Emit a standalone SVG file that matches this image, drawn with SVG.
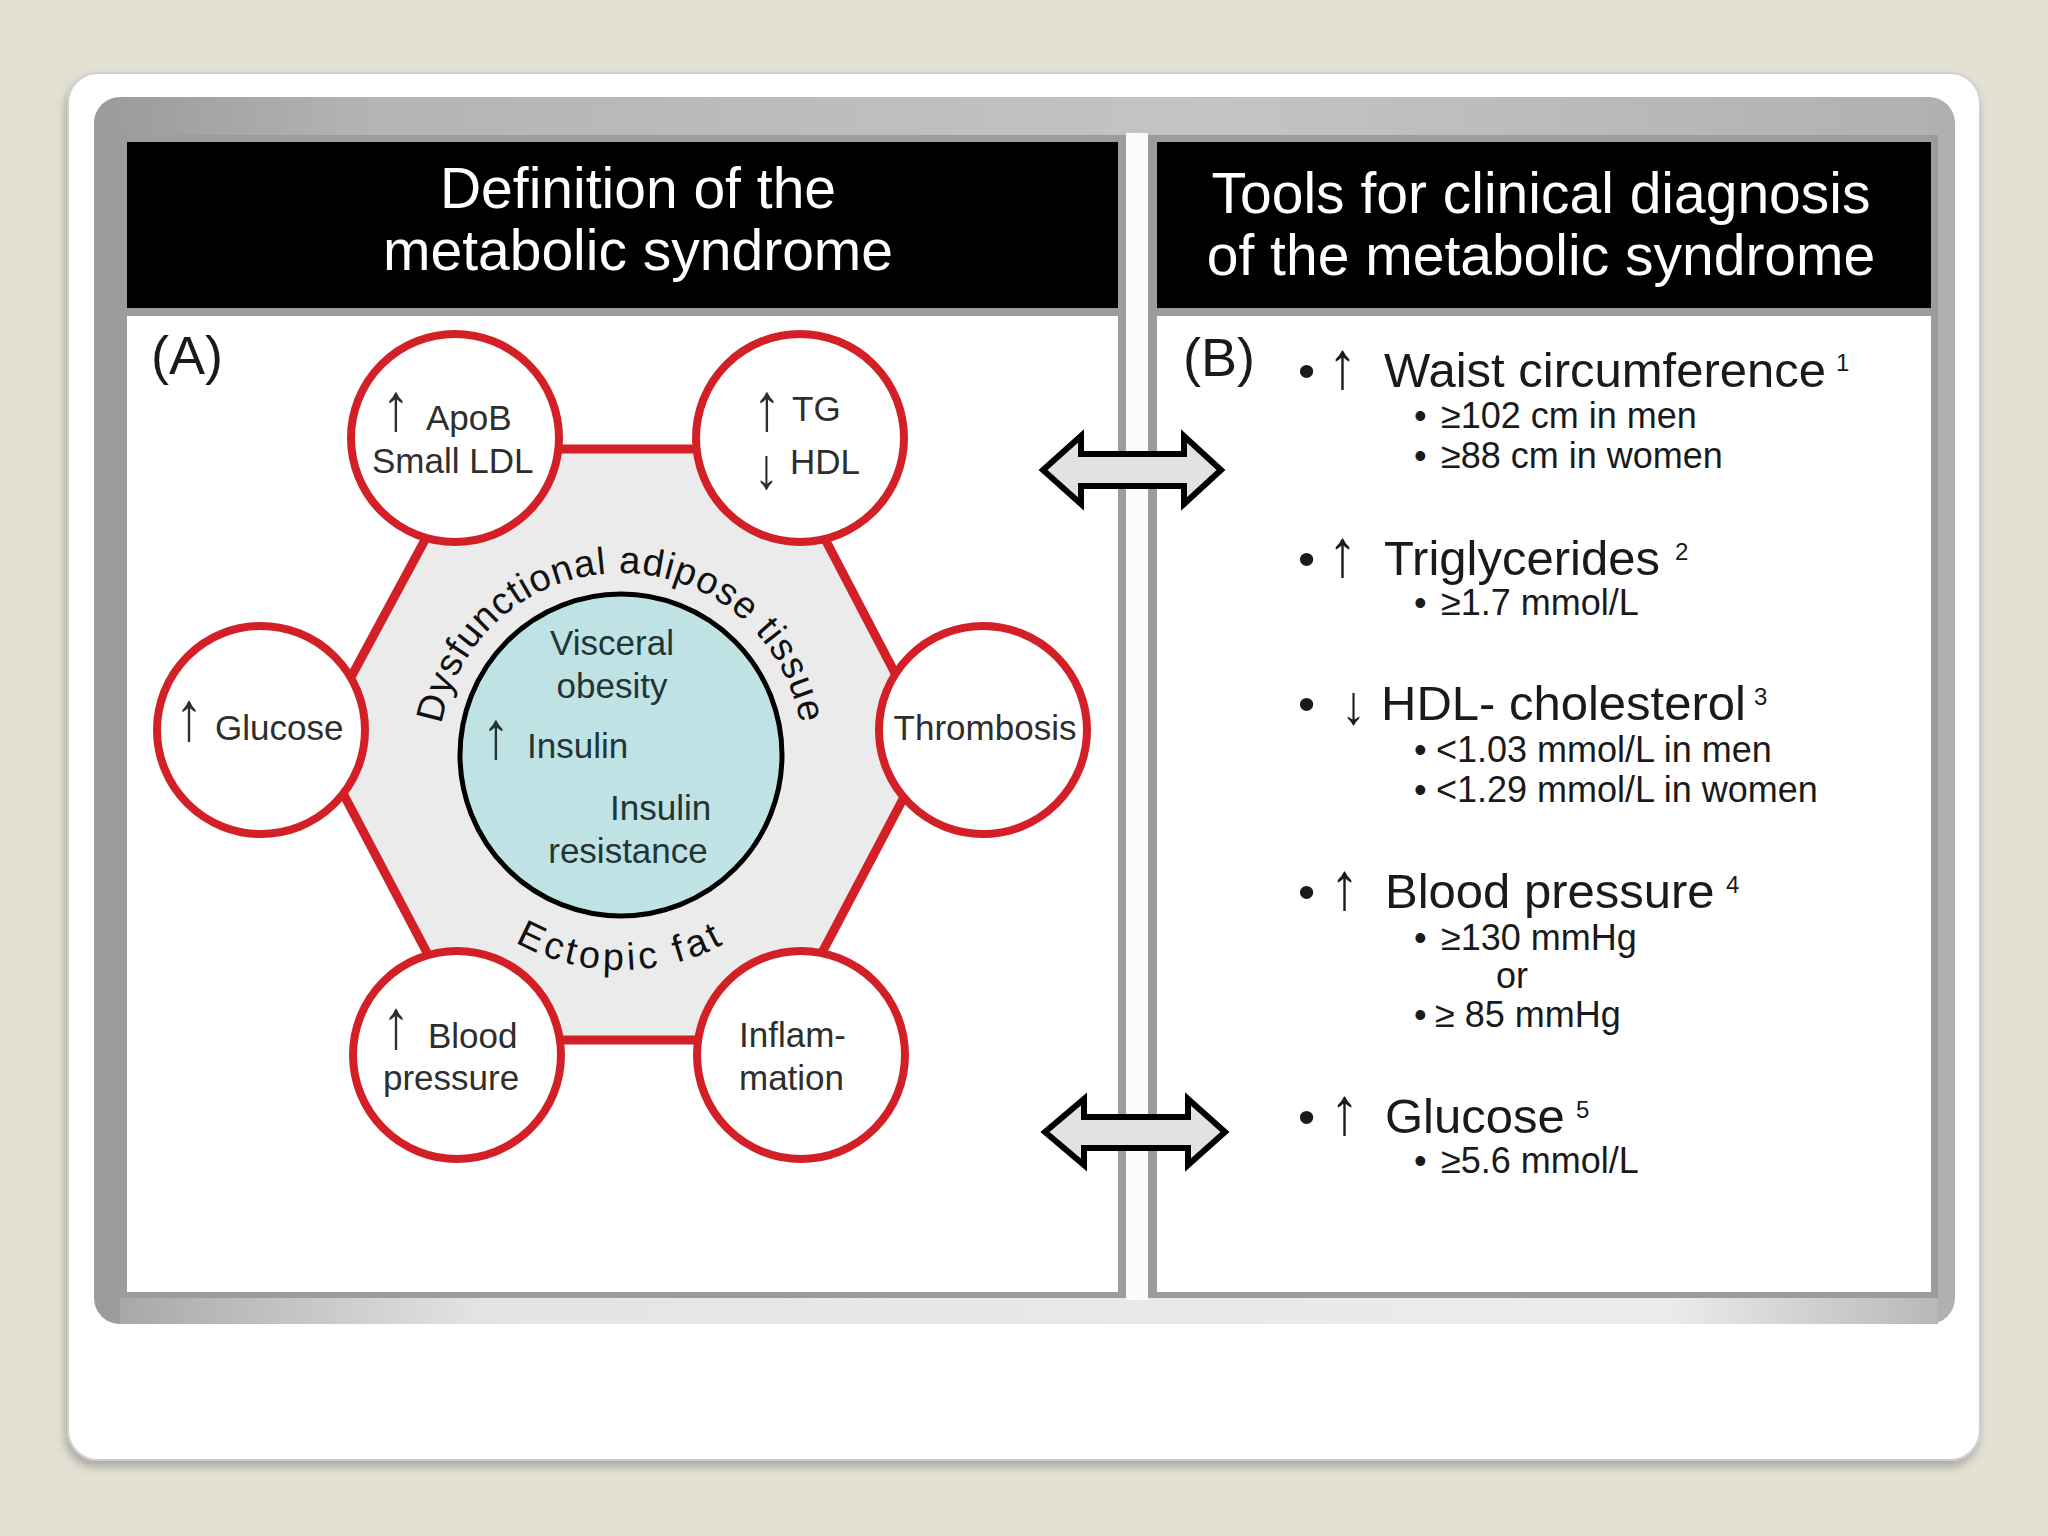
<svg xmlns="http://www.w3.org/2000/svg" width="2048" height="1536" viewBox="0 0 2048 1536">
  <defs>
    <linearGradient id="frameGrad" x1="0" y1="0" x2="1" y2="0">
      <stop offset="0" stop-color="#9a9a9a"/>
      <stop offset="0.15" stop-color="#b4b4b4"/>
      <stop offset="0.6" stop-color="#c4c4c4"/>
      <stop offset="1" stop-color="#b0b0b0"/>
    </linearGradient>
    <linearGradient id="bottomGrad" x1="0" y1="0" x2="1" y2="0">
      <stop offset="0" stop-color="#a8a8a8"/>
      <stop offset="0.2" stop-color="#e4e4e4"/>
      <stop offset="0.85" stop-color="#ececec"/>
      <stop offset="1" stop-color="#b8b8b8"/>
    </linearGradient>
    <filter id="shadow" x="-5%" y="-5%" width="110%" height="115%">
      <feDropShadow dx="-2" dy="6" stdDeviation="5" flood-color="#000" flood-opacity="0.25"/>
    </filter>
    <path id="arcTop" d="M 439 755 A 182 182 0 0 1 803 755"/>
    <path id="arcBot" d="M 406 755 A 215 215 0 0 0 836 755"/>
  </defs>
  <style>
    text { font-family: "Liberation Sans", Arial, "DejaVu Sans", sans-serif; }
    .hdr { fill: #ffffff; font-size: 57px; text-anchor: middle; }
    .lbl { fill: #2e2e2e; font-size: 35px; }
    .inner { fill: #233434; font-size: 35px; }
    .arc { fill: #111111; font-size: 38px; }
    .panelLetter { fill: #1a1a1a; font-size: 54px; }
    .main { fill: #1a1a1a; font-size: 49px; }
    .sub { fill: #1a1a1a; font-size: 36px; }
    .sup { fill: #1a1a1a; font-size: 24px; }
    .arw { font-size: 56px; }
    .arwM { font-size: 58px; }
    .node { fill: #ffffff; stroke: #d32027; stroke-width: 8; }
    .edge { stroke: #d32027; stroke-width: 9; fill: none; }
    .dbl { fill: #e2e2e2; stroke: #000000; stroke-width: 6; stroke-linejoin: miter; }
    .pborder { fill: #9c9c9c; }
  </style>

  <!-- background -->
  <rect x="0" y="0" width="2048" height="1536" fill="#e3e0d4"/>
  <!-- card -->
  <rect x="68" y="73" width="1912" height="1387" rx="30" ry="30" fill="#ffffff" stroke="#cfcfcf" stroke-width="2" filter="url(#shadow)"/>
  <!-- gray frame -->
  <rect x="94" y="97" width="1861" height="1227" rx="26" ry="26" fill="url(#frameGrad)"/>
  <rect x="120" y="1298" width="1818" height="26" fill="url(#bottomGrad)"/>
  <!-- middle white strip -->
  <rect x="1126" y="133" width="22" height="1167" fill="#fbfbfb"/>

  <!-- left panel -->
  <g id="panel-left">
    <rect class="pborder" x="120" y="135" width="1006" height="1163"/>
    <rect x="127" y="142" width="991" height="166" fill="#000000"/>
    <rect x="127" y="316" width="991" height="976" fill="#ffffff"/>
    <text class="hdr" x="638" y="208">Definition of the</text>
    <text class="hdr" x="638" y="270">metabolic syndrome</text>
    <text class="panelLetter" x="151" y="374">(A)</text>
  </g>

  <!-- right panel -->
  <g id="panel-right">
    <rect class="pborder" x="1148" y="135" width="790" height="1163"/>
    <rect x="1157" y="142" width="774" height="166" fill="#000000"/>
    <rect x="1157" y="316" width="774" height="976" fill="#ffffff"/>
    <text class="hdr" x="1541" y="213">Tools for clinical diagnosis</text>
    <text class="hdr" x="1541" y="275">of the metabolic syndrome</text>
    <text class="panelLetter" x="1183" y="376">(B)</text>
  </g>

  <!-- hexagon fill -->
  <polygon points="474,449 778,449 932,744 776,1040 473,1040 316,742" fill="#ebebeb"/>

  <!-- connectors -->
  <g id="connectors">
    <line class="edge" x1="455" y1="449" x2="800" y2="449"/>
    <line class="edge" x1="474" y1="449" x2="316" y2="742"/>
    <line class="edge" x1="316" y1="742" x2="473" y2="1040"/>
    <line class="edge" x1="457" y1="1040" x2="801" y2="1040"/>
    <line class="edge" x1="776" y1="1040" x2="932" y2="744"/>
    <line class="edge" x1="932" y1="744" x2="778" y2="449"/>
    <path class="dbl" d="M1043,470 L1081,436 L1081,454 L1184,454 L1184,436 L1221,470 L1184,504 L1184,486 L1081,486 L1081,504 Z"/>
    <path class="dbl" d="M1045,1132 L1084,1099 L1084,1117 L1188,1117 L1188,1099 L1225,1132 L1188,1165 L1188,1148 L1084,1148 L1084,1165 Z"/>
  </g>

  <!-- central adipose circle -->
  <g id="node-center">
    <circle cx="621" cy="755" r="161" fill="#bfe2e5" stroke="#000000" stroke-width="5"/>
    <text class="inner" x="612" y="655" text-anchor="middle">Visceral</text>
    <text class="inner" x="612" y="698" text-anchor="middle">obesity</text>
    <text class="inner arw" transform="translate(482,758) scale(1,1.2)">↑</text>
    <text class="inner" x="527" y="758">Insulin</text>
    <text class="inner" x="610" y="820">Insulin</text>
    <text class="inner" x="628" y="863" text-anchor="middle">resistance</text>
  </g>
  <g id="arc-labels">
    <text class="arc" letter-spacing="1"><textPath href="#arcTop" startOffset="50%" text-anchor="middle">Dysfunctional adipose tissue</textPath></text>
    <text class="arc" letter-spacing="4"><textPath href="#arcBot" startOffset="50%" text-anchor="middle">Ectopic fat</textPath></text>
  </g>

  <!-- outer nodes -->
  <g id="node-apob">
    <circle class="node" cx="455" cy="438" r="104"/>
    <text class="lbl arw" transform="translate(382,430) scale(1,1.2)">↑</text>
    <text class="lbl" x="426" y="430">ApoB</text>
    <text class="lbl" x="372" y="473">Small LDL</text>
  </g>
  <g id="node-tg-hdl">
    <circle class="node" cx="800" cy="438" r="104"/>
    <text class="lbl arw" transform="translate(753,430) scale(1,1.2)">↑</text>
    <text class="lbl arw" transform="translate(754,488) scale(1,1.15)" style="font-size:50px">↓</text>
    <text class="lbl" x="792" y="421">TG</text>
    <text class="lbl" x="790" y="474">HDL</text>
  </g>
  <g id="node-glucose">
    <circle class="node" cx="261" cy="730" r="104"/>
    <text class="lbl arw" transform="translate(175,740) scale(1,1.25)">↑</text>
    <text class="lbl" x="215" y="740">Glucose</text>
  </g>
  <g id="node-thrombosis">
    <circle class="node" cx="983" cy="730" r="104"/>
    <text class="lbl" x="985" y="740" text-anchor="middle">Thrombosis</text>
  </g>
  <g id="node-bp">
    <circle class="node" cx="457" cy="1055" r="104"/>
    <text class="lbl arw" transform="translate(382,1048) scale(1,1.25)">↑</text>
    <text class="lbl" x="428" y="1048">Blood</text>
    <text class="lbl" x="383" y="1090">pressure</text>
  </g>
  <g id="node-inflammation">
    <circle class="node" cx="801" cy="1055" r="104"/>
    <text class="lbl" x="739" y="1047">Inflam-</text>
    <text class="lbl" x="739" y="1090">mation</text>
  </g>

  <!-- right panel list -->
  <g id="criteria">
    <text class="main" x="1298" y="387">•</text>
    <text class="main arwM" transform="translate(1328,388) scale(1,1.15)">↑</text>
    <text class="main" x="1384" y="387">Waist circumference</text>
    <text class="sup" x="1836" y="371">1</text>
    <text class="sub" x="1414" y="428">•</text>
    <text class="sub" x="1441" y="428">≥102 cm in men</text>
    <text class="sub" x="1414" y="468">•</text>
    <text class="sub" x="1441" y="468">≥88 cm in women</text>

    <text class="main" x="1298" y="575">•</text>
    <text class="main arwM" transform="translate(1328,576) scale(1,1.15)">↑</text>
    <text class="main" x="1384" y="575">Triglycerides</text>
    <text class="sup" x="1675" y="560">2</text>
    <text class="sub" x="1414" y="615">•</text>
    <text class="sub" x="1441" y="615">≥1.7 mmol/L</text>

    <text class="main" x="1298" y="720">•</text>
    <text class="main arwM" transform="translate(1341,724) scale(1,1.1)" style="font-size:50px">↓</text>
    <text class="main" x="1381" y="720">HDL- cholesterol</text>
    <text class="sup" x="1754" y="705">3</text>
    <text class="sub" x="1414" y="762">•</text>
    <text class="sub" x="1436" y="762">&lt;1.03 mmol/L in men</text>
    <text class="sub" x="1414" y="802">•</text>
    <text class="sub" x="1436" y="802">&lt;1.29 mmol/L in women</text>

    <text class="main" x="1298" y="908">•</text>
    <text class="main arwM" transform="translate(1330,909) scale(1,1.15)">↑</text>
    <text class="main" x="1385" y="908">Blood pressure</text>
    <text class="sup" x="1726" y="893">4</text>
    <text class="sub" x="1414" y="950">•</text>
    <text class="sub" x="1441" y="950">≥130 mmHg</text>
    <text class="sub" x="1496" y="988">or</text>
    <text class="sub" x="1414" y="1027">•</text>
    <text class="sub" x="1435" y="1027">≥ 85 mmHg</text>

    <text class="main" x="1298" y="1133">•</text>
    <text class="main arwM" transform="translate(1330,1134) scale(1,1.15)">↑</text>
    <text class="main" x="1385" y="1133">Glucose</text>
    <text class="sup" x="1576" y="1118">5</text>
    <text class="sub" x="1414" y="1173">•</text>
    <text class="sub" x="1441" y="1173">≥5.6 mmol/L</text>
  </g>
</svg>
